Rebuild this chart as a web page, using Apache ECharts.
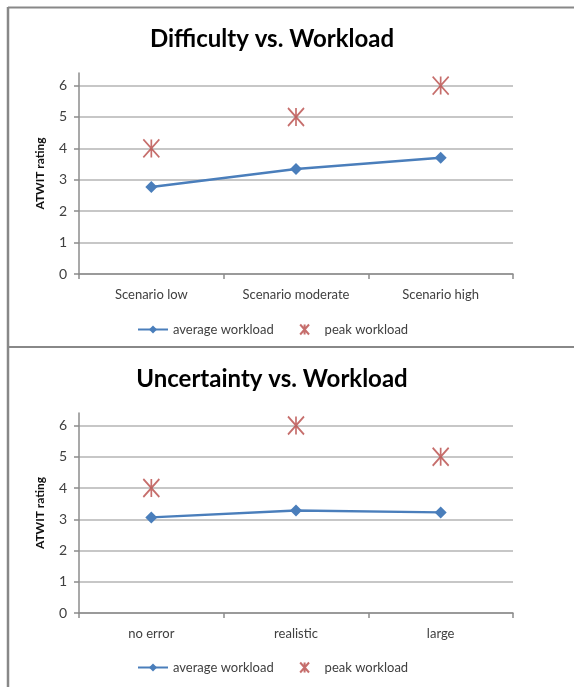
<!DOCTYPE html>
<html>
<head>
<meta charset="utf-8">
<script src="https://cdn.jsdelivr.net/npm/echarts@6/dist/echarts.min.js"></script>
<style>html,body{margin:0;padding:0;background:#fff}#c{width:574px;height:687px}</style>
</head>
<body>
<div id="c"></div>
<script>
const title1 = 'Difficulty vs. Workload';
const title2 = 'Uncertainty vs. Workload';
const categories1 = ['Scenario low', 'Scenario moderate', 'Scenario high'];
const categories2 = ['no error', 'realistic', 'large'];
const average1 = [2.77, 3.34, 3.70];
const peak1 = [4, 5, 6];
const average2 = [3.06, 3.28, 3.22];
const peak2 = [4, 6, 5];
const yTicks = [0, 1, 2, 3, 4, 5, 6];
const yName = 'ATWIT rating';
const seriesNames = ['average workload', 'peak workload'];

const FONT = 'Lato, "Open Sans", sans-serif';
const BLUE = '#4a7ebb';
const RED = '#b84a47';
const STAR = 'path://M0,0L16,18M16,0L0,18M8,0L8,18';

const chart = echarts.init(document.getElementById('c'), null, {renderer: 'canvas'});

function xAxis(idx, cats) {
  return {
    type: 'category', gridIndex: idx, data: cats, boundaryGap: true,
    axisLine: {lineStyle: {color: '#8c8c8c', width: 1.5}},
    axisTick: {show: true, length: 5, alignWithLabel: false, lineStyle: {color: '#8c8c8c', width: 1.5}},
    axisLabel: {color: '#404040', fontFamily: FONT, fontSize: 13, margin: 14}
  };
}
function yAxis(idx) {
  return {
    type: 'value', gridIndex: idx, min: 0, max: 6.4, interval: 1,
    name: yName, nameLocation: 'middle', nameGap: 33, nameRotate: 90,
    nameTextStyle: {fontFamily: FONT, fontWeight: 'bold', fontSize: 12, color: '#111'},
    axisLine: {show: true, lineStyle: {color: '#8c8c8c', width: 1.5}},
    axisTick: {show: true, length: 5, customValues: yTicks, lineStyle: {color: '#8c8c8c', width: 1.5}},
    axisLabel: {color: '#404040', fontFamily: FONT, fontSize: 14, margin: 12, customValues: yTicks},
    splitLine: {show: true, lineStyle: {color: '#b4b4b4', width: 1.5}}
  };
}
function lineSeries(idx, data) {
  return {
    name: seriesNames[0], type: 'line', xAxisIndex: idx, yAxisIndex: idx, data: data,
    symbol: 'diamond', symbolSize: 12,
    lineStyle: {color: BLUE, width: 2.5},
    itemStyle: {color: BLUE},
    emphasis: {disabled: true}, z: 3
  };
}
function starSeries(idx, data) {
  return {
    name: seriesNames[1], type: 'scatter', xAxisIndex: idx, yAxisIndex: idx, data: data,
    symbol: STAR, symbolSize: [16, 18], symbolKeepAspect: false,
    itemStyle: {color: 'none', borderColor: RED, borderWidth: 1.8},
    emphasis: {disabled: true}, z: 4
  };
}
function legend(top) {
  return {
    data: seriesNames, left: 132, top: top, itemWidth: 30, itemHeight: 10, itemGap: 24,
    textStyle: {fontFamily: FONT, fontSize: 13, color: '#404040'},
    selectedMode: false
  };
}

chart.setOption({
  animation: false,
  title: [
    {text: title1, left: 267, top: 22, textAlign: 'center', textStyle: {fontFamily: FONT, fontWeight: 'bold', fontSize: 24, color: '#000'}},
    {text: title2, left: 267, top: 362, textAlign: 'center', textStyle: {fontFamily: FONT, fontWeight: 'bold', fontSize: 24, color: '#000'}}
  ],
  legend: [legend(317), legend(655)],
  grid: [
    {left: 79, right: 61, top: 73, height: 201},
    {left: 79, right: 61, top: 413, height: 200}
  ],
  xAxis: [xAxis(0, categories1), xAxis(1, categories2)],
  yAxis: [yAxis(0), yAxis(1)],
  series: [lineSeries(0, average1), starSeries(0, peak1), lineSeries(1, average2), starSeries(1, peak2)],
  graphic: [
    {type: 'line', shape: {x1: 8, y1: 7.5, x2: 574, y2: 7.5}, style: {stroke: '#888', lineWidth: 2}, silent: true},
    {type: 'line', shape: {x1: 8, y1: 7, x2: 8, y2: 687}, style: {stroke: '#888', lineWidth: 2.5}, silent: true},
    {type: 'line', shape: {x1: 8, y1: 347, x2: 574, y2: 347}, style: {stroke: '#888', lineWidth: 2}, silent: true}
  ]
});
</script>
</body>
</html>
